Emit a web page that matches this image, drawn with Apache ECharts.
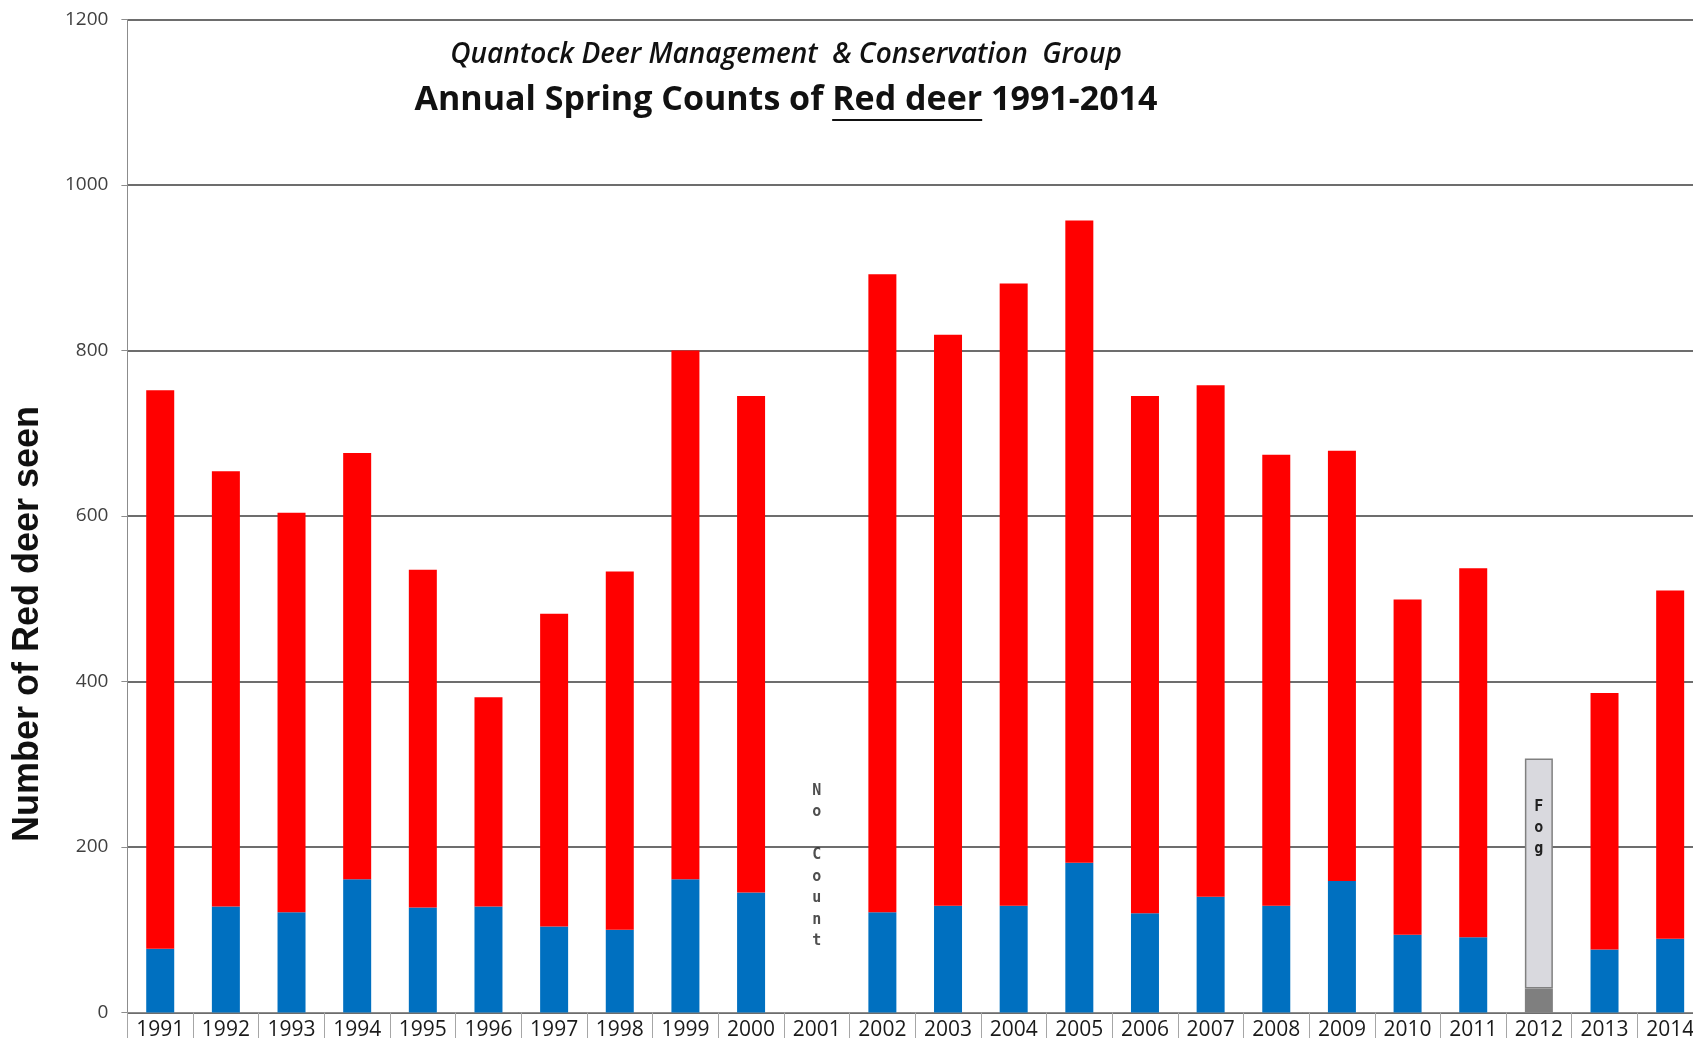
<!DOCTYPE html>
<html>
<head>
<meta charset="utf-8">
<script src="https://cdn.jsdelivr.net/npm/echarts@6/dist/echarts.min.js"></script>
<style>
html,body{margin:0;padding:0;background:#fff;}
#chart{width:1693px;height:1038px;}
</style>
</head>
<body>
<div id="chart"></div>
<script>
// ---- data ----
const years = ['1991','1992','1993','1994','1995','1996','1997','1998','1999','2000','2001','2002','2003','2004','2005','2006','2007','2008','2009','2010','2011','2012','2013','2014'];
const totals = [752,654,604,676,535,381,482,533,800,745,null,892,819,881,957,745,758,674,679,499,537,null,386,510];
const blueSeg = [77,128,121,161,127,128,104,100,161,145,null,121,129,129,181,120,140,129,159,94,91,null,76,89];
const fogYear = '2012';
const fogTotal = 307;
const fogLower = 29;
const noCountYear = '2001';
const noCountLevel = 177;
const yTicks = [0,200,400,600,800,1000,1200];
const titleLine1 = 'Quantock Deer Management  & Conservation  Group';
const titlePre = 'Annual Spring Counts of ';
const titleU = 'Red deer';
const titlePost = ' 1991-2014';
const yName = 'Number of Red deer seen';

// ---- build series arrays ----
const redSeg = totals.map((t, i) => (t == null ? null : t - blueSeg[i]));
const fogDark = years.map(y => (y === fogYear ? fogLower : null));
const fogLight = years.map(y => (y === fogYear ? fogTotal - fogLower : null));
const noCount = years.map(y => (y === noCountYear ? noCountLevel : null));

const chart = echarts.init(document.getElementById('chart'));
const BW = 28;

// measure title for underline
const mainFont = 'bold 34px "Open Sans"';
const cv = document.createElement('canvas').getContext('2d');
cv.font = mainFont;
const wAll = cv.measureText(titlePre + titleU + titlePost).width;
const wPre = cv.measureText(titlePre).width;
const wU = cv.measureText(titleU).width;
const tcx = 786, tcy = 100;
const uLeft = tcx - wAll / 2 + wPre;

chart.setOption({
  animation: false,
  backgroundColor: '#ffffff',
  grid: { left: 127.4, top: 19.5, bottom: 25.5, right: -10, containLabel: false, outerBoundsMode: 'none' },
  xAxis: {
    type: 'category',
    data: years,
    axisLine: { show: true, lineStyle: { color: '#8c8c8c', width: 1 } },
    axisTick: { show: true, interval: 0, length: 26, lineStyle: { color: '#a6a6a6', width: 1 } },
    axisLabel: { interval: 0, color: '#1a1a1a', fontSize: 21, fontFamily: '"Open Sans", sans-serif', margin: 7 },
    splitLine: { show: false }
  },
  yAxis: {
    type: 'value',
    min: yTicks[0], max: yTicks[yTicks.length - 1], interval: 200,
    axisLine: { show: true, lineStyle: { color: '#8c8c8c', width: 1 } },
    axisTick: { show: true, length: 6, lineStyle: { color: '#8c8c8c' } },
    axisLabel: { color: '#404040', fontSize: 19, fontFamily: '"Open Sans", sans-serif', margin: 19, formatter: v => String(v) },
    splitLine: { show: true, lineStyle: { color: '#3c3c3c', width: 1.5 } }
  },
  series: [
    { name: 'lower', type: 'bar', stack: 's', barWidth: BW, data: blueSeg, itemStyle: { color: '#0070C0' } },
    { name: 'upper', type: 'bar', stack: 's', barWidth: BW, data: redSeg, itemStyle: { color: '#FF0000' } },
    { name: 'fogLower', type: 'bar', stack: 's', barWidth: BW, data: fogDark, itemStyle: { color: '#7f7f7f' } },
    { name: 'fog', type: 'bar', stack: 's', barWidth: BW, data: fogLight,
      itemStyle: { color: '#d9d9de', borderColor: '#808080', borderWidth: 1.5 },
      label: { show: true, position: 'insideTop', distance: 38, formatter: 'F\no\ng',
        fontFamily: '"DejaVu Sans Mono", monospace', fontWeight: 'bold', fontSize: 15, lineHeight: 21, color: '#222' } },
    { name: 'noCount', type: 'scatter', data: noCount, symbolSize: 0, silent: true,
      label: { show: true, position: 'inside', formatter: 'N\no\n\nC\no\nu\nn\nt',
        fontFamily: '"DejaVu Sans Mono", monospace', fontWeight: 'bold', fontSize: 15, lineHeight: 21.5, color: '#222' } }
  ],
  graphic: [
    { type: 'text', x: tcx, y: 55, style: { text: titleLine1, font: 'italic 600 28px "Open Sans"', fill: '#111', textAlign: 'center', textVerticalAlign: 'middle' } },
    { type: 'text', x: tcx, y: tcy, style: { text: titlePre + titleU + titlePost, font: mainFont, fill: '#111', textAlign: 'center', textVerticalAlign: 'middle' } },
    { type: 'line', shape: { x1: uLeft, y1: tcy + 20, x2: uLeft + wU, y2: tcy + 20 }, style: { stroke: '#111', lineWidth: 2 } },
    { type: 'text', x: 28, y: 624, rotation: Math.PI / 2, style: { text: yName, font: 'bold 36px "Liberation Sans"', fill: '#111', textAlign: 'center', textVerticalAlign: 'middle' } }
  ]
});
</script>
</body>
</html>
